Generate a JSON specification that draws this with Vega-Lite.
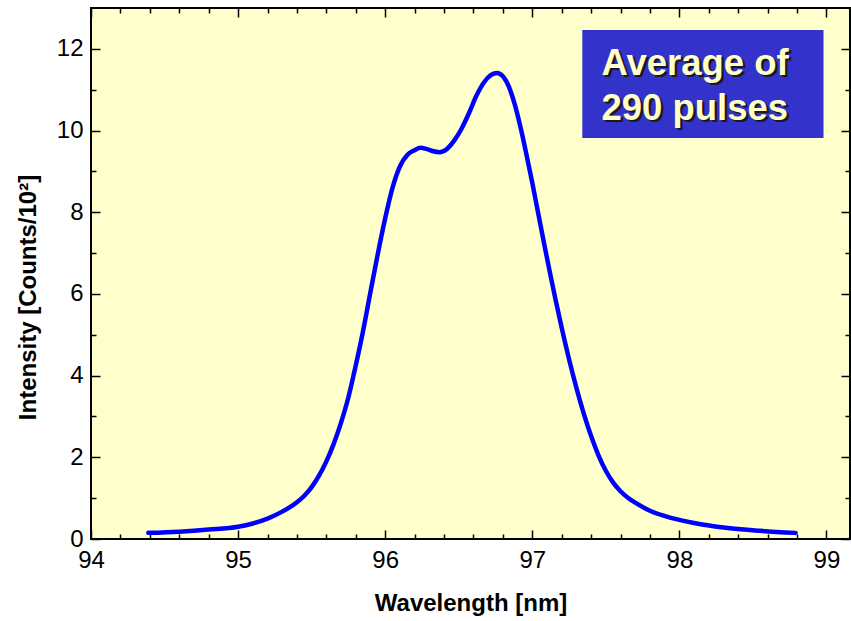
{
  "$schema": "https://vega.github.io/schema/vega-lite/v6.json",
  "width": 759,
  "height": 531,
  "autosize": "none",
  "padding": {"left": 91, "top": 8, "right": 1, "bottom": 82},
  "background": "white",
  "config": {
    "view": {"stroke": "black", "strokeWidth": 2, "fill": "#FFFFCC"},
    "font": "Liberation Sans",
    "axis": {
      "grid": false,
      "domain": false,
      "labelFlush": false,
      "labelFont": "Liberation Sans",
      "labelFontSize": 24,
      "labelColor": "black",
      "tickColor": "black",
      "tickWidth": 1.5,
      "titleFont": "Liberation Sans",
      "titleFontSize": 24,
      "titleFontWeight": "bold",
      "titleColor": "black"
    }
  },
  "datasets": {
    "spectrum": [
      {"wl": 94.39, "intensity": 0.15},
      {"wl": 94.6, "intensity": 0.18},
      {"wl": 94.8, "intensity": 0.23},
      {"wl": 95.0, "intensity": 0.3},
      {"wl": 95.1, "intensity": 0.38},
      {"wl": 95.2, "intensity": 0.5},
      {"wl": 95.3, "intensity": 0.67},
      {"wl": 95.4, "intensity": 0.9},
      {"wl": 95.45, "intensity": 1.06},
      {"wl": 95.5, "intensity": 1.27},
      {"wl": 95.55, "intensity": 1.55},
      {"wl": 95.6, "intensity": 1.9},
      {"wl": 95.65, "intensity": 2.33},
      {"wl": 95.7, "intensity": 2.85},
      {"wl": 95.75, "intensity": 3.47},
      {"wl": 95.8, "intensity": 4.25},
      {"wl": 95.85, "intensity": 5.1},
      {"wl": 95.9, "intensity": 6.05},
      {"wl": 95.95, "intensity": 6.98},
      {"wl": 96.0, "intensity": 7.85},
      {"wl": 96.05, "intensity": 8.6},
      {"wl": 96.1, "intensity": 9.12},
      {"wl": 96.15, "intensity": 9.4},
      {"wl": 96.2, "intensity": 9.52},
      {"wl": 96.24, "intensity": 9.58},
      {"wl": 96.28, "intensity": 9.55},
      {"wl": 96.32, "intensity": 9.5},
      {"wl": 96.37, "intensity": 9.47},
      {"wl": 96.42, "intensity": 9.55},
      {"wl": 96.47, "intensity": 9.76},
      {"wl": 96.52, "intensity": 10.05},
      {"wl": 96.57, "intensity": 10.43},
      {"wl": 96.62, "intensity": 10.85},
      {"wl": 96.67, "intensity": 11.17},
      {"wl": 96.72, "intensity": 11.36},
      {"wl": 96.76, "intensity": 11.41},
      {"wl": 96.8, "intensity": 11.33},
      {"wl": 96.84, "intensity": 11.08},
      {"wl": 96.88, "intensity": 10.65},
      {"wl": 96.92, "intensity": 10.08},
      {"wl": 96.96, "intensity": 9.42},
      {"wl": 97.0, "intensity": 8.72},
      {"wl": 97.04, "intensity": 7.98},
      {"wl": 97.08, "intensity": 7.24},
      {"wl": 97.12, "intensity": 6.52},
      {"wl": 97.16, "intensity": 5.83},
      {"wl": 97.2, "intensity": 5.17},
      {"wl": 97.25, "intensity": 4.4},
      {"wl": 97.3, "intensity": 3.7},
      {"wl": 97.35, "intensity": 3.07},
      {"wl": 97.4, "intensity": 2.52},
      {"wl": 97.45, "intensity": 2.05},
      {"wl": 97.5, "intensity": 1.67},
      {"wl": 97.55, "intensity": 1.38},
      {"wl": 97.6, "intensity": 1.17},
      {"wl": 97.65, "intensity": 1.01},
      {"wl": 97.7, "intensity": 0.89},
      {"wl": 97.8, "intensity": 0.69},
      {"wl": 97.95, "intensity": 0.51},
      {"wl": 98.1, "intensity": 0.39},
      {"wl": 98.3, "intensity": 0.28},
      {"wl": 98.55, "intensity": 0.2},
      {"wl": 98.79, "intensity": 0.15}
    ],
    "box": [{"x1": 97.34, "x2": 98.98, "y1": 9.82, "y2": 12.46}],
    "label": [
      {"line": "Average of", "x": 97.47, "y": 11.37},
      {"line": "290 pulses", "x": 97.47, "y": 10.26}
    ]
  },
  "resolve": {"axis": {"x": "independent", "y": "independent"}},
  "layer": [
    {
      "data": {"name": "box"},
      "mark": {"type": "rect", "color": "#3333CC"},
      "encoding": {
        "x": {"field": "x1", "type": "quantitative", "scale": {"domain": [94, 99.16], "nice": false, "zero": false}, "axis": null},
        "x2": {"field": "x2"},
        "y": {"field": "y1", "type": "quantitative", "scale": {"domain": [0, 13], "nice": false}, "axis": null},
        "y2": {"field": "y2"}
      }
    },
    {
      "data": {"name": "spectrum"},
      "mark": {"type": "line", "color": "#0000FF", "strokeWidth": 4.5, "strokeCap": "round", "interpolate": "monotone"},
      "encoding": {
        "x": {"field": "wl", "type": "quantitative", "axis": {"orient": "bottom", "values": [94, 95, 96, 97, 98, 99], "tickSize": -9, "labelPadding": 18, "title": "Wavelength [nm]", "titleBaseline": "alphabetic", "titleY": 71}},
        "y": {"field": "intensity", "type": "quantitative", "axis": {"orient": "left", "values": [0, 2, 4, 6, 8, 10, 12], "tickSize": -9, "labelPadding": 17, "title": "Intensity [Counts/10²]", "titleBaseline": "alphabetic", "titleX": -56, "titleY": 289}}
      }
    },
    {
      "data": {"name": "spectrum"},
      "mark": {"type": "line", "opacity": 0},
      "encoding": {
        "x": {"field": "wl", "type": "quantitative", "axis": {"orient": "bottom", "values": [94.2, 94.4, 94.6, 94.8, 95.2, 95.4, 95.6, 95.8, 96.2, 96.4, 96.6, 96.8, 97.2, 97.4, 97.6, 97.8, 98.2, 98.4, 98.6, 98.8, 99.2], "tickSize": -5, "labels": false, "title": null}},
        "y": {"field": "intensity", "type": "quantitative", "axis": {"orient": "left", "values": [1, 3, 5, 7, 9, 11], "tickSize": -5, "labels": false, "title": null}}
      }
    },
    {
      "data": {"name": "spectrum"},
      "mark": {"type": "line", "opacity": 0},
      "encoding": {
        "x": {"field": "wl", "type": "quantitative", "axis": {"orient": "top", "values": [94, 95, 96, 97, 98, 99], "tickSize": -9, "labels": false, "title": null}},
        "y": {"field": "intensity", "type": "quantitative", "axis": {"orient": "right", "values": [0, 2, 4, 6, 8, 10, 12], "tickSize": -9, "labels": false, "title": null}}
      }
    },
    {
      "data": {"name": "spectrum"},
      "mark": {"type": "line", "opacity": 0},
      "encoding": {
        "x": {"field": "wl", "type": "quantitative", "axis": {"orient": "top", "values": [94.2, 94.4, 94.6, 94.8, 95.2, 95.4, 95.6, 95.8, 96.2, 96.4, 96.6, 96.8, 97.2, 97.4, 97.6, 97.8, 98.2, 98.4, 98.6, 98.8], "tickSize": -5, "labels": false, "title": null}},
        "y": {"field": "intensity", "type": "quantitative", "axis": {"orient": "right", "values": [1, 3, 5, 7, 9, 11], "tickSize": -5, "labels": false, "title": null}}
      }
    },
    {
      "data": {"name": "label"},
      "mark": {"type": "text", "align": "left", "baseline": "alphabetic", "font": "Liberation Sans", "fontSize": 36.5, "fontWeight": "bold", "color": "#1a1a1a", "dx": 2.5, "dy": 2.5},
      "encoding": {
        "x": {"field": "x", "type": "quantitative", "axis": null},
        "y": {"field": "y", "type": "quantitative", "axis": null},
        "text": {"field": "line"}
      }
    },
    {
      "data": {"name": "label"},
      "mark": {"type": "text", "align": "left", "baseline": "alphabetic", "font": "Liberation Sans", "fontSize": 36.5, "fontWeight": "bold", "color": "#FFFFCC"},
      "encoding": {
        "x": {"field": "x", "type": "quantitative", "axis": null},
        "y": {"field": "y", "type": "quantitative", "axis": null},
        "text": {"field": "line"}
      }
    }
  ]
}
